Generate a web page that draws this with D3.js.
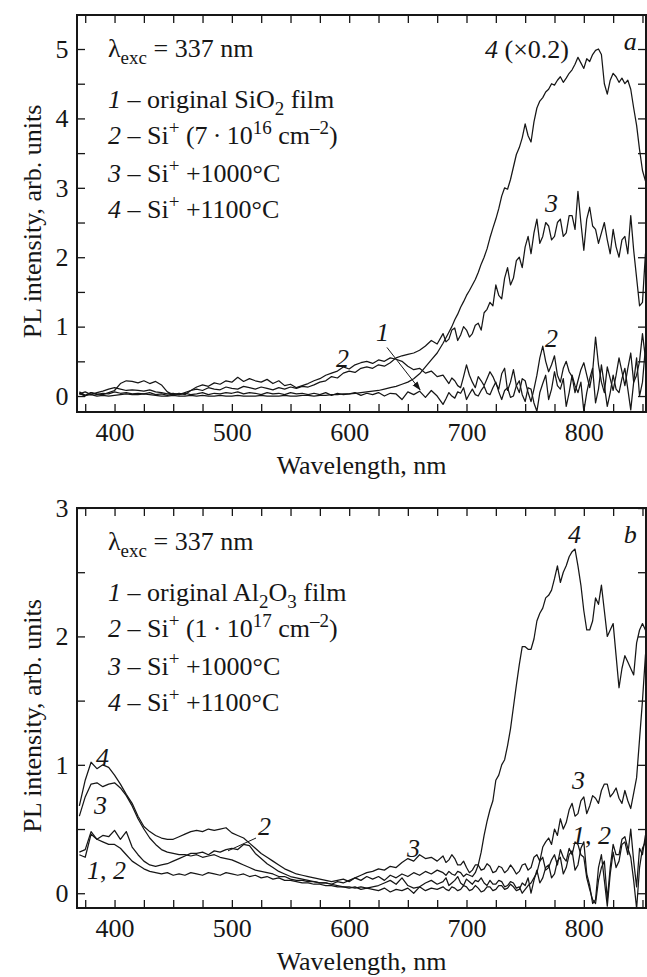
<!DOCTYPE html>
<html>
<head>
<meta charset="utf-8">
<script src="https://cdn.jsdelivr.net/npm/d3@7"></script>
<style>
  html, body { margin: 0; padding: 0; background: #fff; }
  svg { display: block; }
</style>
</head>
<body>
<svg id="chart" width="647" height="977"></svg>
<script>
const FONT = '"Liberation Serif", "Times New Roman", Times, serif';
const INK = '#161616';

// ---- shared x axis ----
// 5 nm sampling up to 675 nm, 2.5 nm where the spectra get noisy
const wavelengths = [
  370, 375, 380, 385, 390, 395, 400, 405, 410, 415,
  420, 425, 430, 435, 440, 445, 450, 455, 460, 465,
  470, 475, 480, 485, 490, 495, 500, 505, 510, 515,
  520, 525, 530, 535, 540, 545, 550, 555, 560, 565,
  570, 575, 580, 585, 590, 595, 600, 605, 610, 615,
  620, 625, 630, 635, 640, 645, 650, 655, 660, 665,
  670, 675,
  680, 682.5, 685, 687.5, 690, 692.5, 695, 697.5, 700, 702.5,
  705, 707.5, 710, 712.5, 715, 717.5, 720, 722.5, 725, 727.5,
  730, 732.5, 735, 737.5, 740, 742.5, 745, 747.5, 750, 752.5,
  755, 757.5, 760, 762.5, 765, 767.5, 770, 772.5, 775, 777.5,
  780, 782.5, 785, 787.5, 790, 792.5, 795, 797.5, 800, 802.5,
  805, 807.5, 810, 812.5, 815, 817.5, 820, 822.5, 825, 827.5,
  830, 832.5, 835, 837.5, 840, 842.5, 845, 847.5, 850, 852.5,
  855
];
const xTicks = [375, 400, 425, 450, 475, 500, 525, 550, 575, 600, 625, 650,
                675, 700, 725, 750, 775, 800, 825, 850];
const xTickLabels = [400, 500, 600, 700, 800];

// ---- panel a: SiO2 ----
const aOriginal = [
  0.04, 0.00, 0.05, 0.02, 0.04, 0.03, 0.06, 0.04, 0.05, 0.03,
  0.04, 0.03, 0.05, 0.02, 0.03, 0.01, 0.03, 0.02, 0.04, 0.02,
  0.03, 0.05, 0.02, 0.04, 0.03, 0.05, 0.04, 0.06, 0.03, 0.05,
  0.04, 0.02, 0.05, 0.03, 0.04, 0.02, 0.05, 0.03, 0.04, 0.02,
  0.04, 0.02, 0.05, 0.01, 0.04, 0.02, 0.03, 0.05, 0.01, 0.04,
  0.02, 0.05, 0.00, 0.04, 0.03, -0.05, 0.06, 0.02, 0.07, -0.02,
  0.08, 0.00,
  -0.12, -0.04, 0.05, 0.00, -0.03, 0.06, 0.04, 0.12, -0.05, 0.03,
  0.10, 0.02, 0.00, 0.08, 0.14, 0.04, 0.02, 0.12, 0.20, 0.06,
  -0.05, 0.08, 0.12, -0.02, 0.00, 0.15, 0.22, 0.02, -0.08, 0.12,
  0.10, -0.10, -0.22, 0.05, 0.18, 0.30, -0.05, 0.10, 0.35, 0.15,
  0.10, 0.25, -0.15, 0.05, 0.30, 0.15, 0.05, 0.20, -0.22, 0.05,
  0.25, 0.40, -0.10, 0.10, 0.45, 0.15, -0.15, 0.05, 0.30, 0.10,
  0.05, 0.25, 0.40, 0.10, -0.20, 0.20, 0.55, 0.00, 0.20, 0.70,
  0.60
];
const aImplanted = [
  0.06, 0.01, 0.05, 0.03, 0.02, 0.05, 0.08, 0.18, 0.22, 0.21,
  0.19, 0.22, 0.18, 0.21, 0.16, 0.06, 0.02, 0.04, 0.02, 0.08,
  0.13, 0.16, 0.14, 0.19, 0.17, 0.22, 0.20, 0.27, 0.21, 0.25,
  0.22, 0.20, 0.24, 0.18, 0.22, 0.15, 0.17, 0.12, 0.15, 0.18,
  0.22, 0.25, 0.30, 0.33, 0.36, 0.42, 0.39, 0.45, 0.48, 0.50,
  0.47, 0.52, 0.50, 0.55, 0.53, 0.50, 0.43, 0.38, 0.40, 0.33,
  0.36, 0.28,
  0.30, 0.24, 0.18, 0.26, 0.22, 0.15, 0.12, 0.28, 0.45, 0.30,
  0.20, 0.12, 0.28, 0.22, 0.15, 0.25, 0.35, 0.28, 0.18, 0.10,
  0.32, 0.40, 0.08, 0.20, 0.38, 0.15, 0.05, 0.25, 0.22, 0.05,
  -0.08, 0.10, 0.30, 0.55, 0.72, 0.50, 0.35, 0.45, 0.58, 0.30,
  0.20, 0.40, 0.50, 0.35, 0.28, 0.05, 0.22, 0.38, 0.48, 0.30,
  0.12, 0.35, 0.85, 0.45, 0.20, 0.05, 0.42, 0.25, 0.08, 0.30,
  0.55, 0.35, 0.15, 0.40, 0.62, 0.20, 0.30, 0.50, 0.90, 0.55,
  0.40
];
const aAnneal1000 = [
  0.03, 0.06, 0.02, 0.05, 0.07, 0.10, 0.12, 0.10, 0.08, 0.09,
  0.08, 0.07, 0.09, 0.06, 0.05, 0.03, 0.04, 0.02, 0.05, 0.08,
  0.10, 0.08, 0.12, 0.10, 0.09, 0.13, 0.11, 0.10, 0.14, 0.12,
  0.10, 0.13, 0.11, 0.09, 0.12, 0.10, 0.13, 0.11, 0.14, 0.13,
  0.16, 0.20, 0.22, 0.28, 0.26, 0.33, 0.36, 0.34, 0.40, 0.42,
  0.40, 0.45, 0.43, 0.48, 0.55, 0.58, 0.60, 0.62, 0.66, 0.72,
  0.80, 0.75,
  0.90, 0.78, 0.82, 0.95, 0.98, 0.80, 0.88, 1.00, 0.95, 0.85,
  0.90, 1.02, 1.05, 0.95, 1.20, 1.25, 1.35, 1.30, 1.60, 1.45,
  1.40, 1.70, 1.85, 1.60, 1.70, 1.95, 2.00, 1.85, 2.15, 2.30,
  2.05, 2.35, 2.55, 2.20, 2.30, 2.50, 2.45, 2.25, 2.30, 2.50,
  2.55, 2.30, 2.35, 2.60, 2.60, 2.40, 2.95, 2.50, 2.10, 2.55,
  2.72, 2.45, 2.40, 2.20, 2.35, 2.50, 2.25, 2.05, 2.40, 2.15,
  2.00, 2.25, 2.30, 2.05, 2.60, 2.10, 1.70, 1.30, 1.35, 2.05,
  1.90
];
// curve 4 is already scaled by 0.2
const aAnneal1100 = [
  0.03, 0.01, 0.02, 0.00, 0.01, 0.00, 0.01, 0.02, 0.03, 0.02,
  0.02, 0.03, 0.02, 0.01, 0.00, 0.00, 0.01, 0.00, 0.00, 0.01,
  0.00, 0.01, 0.00, 0.00, 0.01, 0.00, 0.00, 0.01, 0.00, 0.00,
  0.00, 0.01, 0.00, 0.00, 0.00, 0.01, 0.00, 0.00, 0.01, 0.01,
  0.00, 0.01, 0.01, 0.02, 0.02, 0.03, 0.03, 0.04, 0.05, 0.06,
  0.07, 0.08, 0.10, 0.12, 0.14, 0.17, 0.20, 0.25, 0.32, 0.42,
  0.52, 0.62,
  0.76, 0.84, 0.92, 1.00, 1.10, 1.18, 1.28, 1.36, 1.45, 1.52,
  1.60, 1.68, 1.78, 1.90, 2.00, 2.12, 2.28, 2.42, 2.55, 2.70,
  2.88, 3.00, 2.98, 3.12, 3.30, 3.48, 3.58, 3.72, 3.92, 3.75,
  3.66, 3.95, 4.15, 4.25, 4.30, 4.38, 4.42, 4.50, 4.48, 4.55,
  4.60, 4.52, 4.58, 4.65, 4.70, 4.78, 4.88, 4.80, 4.72, 4.86,
  4.82, 4.92, 4.98, 5.00, 4.92, 4.50, 4.35, 4.55, 4.65, 4.60,
  4.52, 4.58, 4.50, 4.55, 4.42, 4.15, 3.90, 3.55, 3.25, 3.10,
  3.00
];

// ---- panel b: Al2O3 ----
const bOriginal = [
  0.30, 0.28, 0.46, 0.42, 0.40, 0.38, 0.38, 0.35, 0.30, 0.25,
  0.22, 0.19, 0.17, 0.16, 0.15, 0.16, 0.14, 0.15, 0.14, 0.16,
  0.15, 0.14, 0.16, 0.15, 0.14, 0.16, 0.15, 0.14, 0.15, 0.13,
  0.14, 0.12, 0.13, 0.11, 0.12, 0.10, 0.10, 0.09, 0.08, 0.08,
  0.07, 0.07, 0.06, 0.06, 0.05, 0.05, 0.04, 0.05, 0.03, 0.04,
  0.03, 0.02, 0.04, 0.01, 0.03, 0.02, 0.04, 0.00, 0.05, 0.02,
  0.04, 0.03,
  0.05, 0.03, 0.02, 0.05, 0.04, 0.02, 0.03, 0.06, 0.05, 0.02,
  0.03, 0.06, 0.04, 0.01, 0.02, 0.05, 0.05, 0.02, 0.03, 0.06,
  0.06, 0.03, 0.04, 0.07, 0.05, 0.02, 0.03, 0.08, 0.06, 0.12,
  0.00, 0.10, 0.18, 0.08, 0.12, 0.20, 0.22, 0.12, 0.15, 0.25,
  0.28, 0.15, 0.20, 0.30, 0.33, 0.18, 0.22, 0.35, 0.40, 0.15,
  0.06, -0.08, -0.05, 0.20, 0.30, 0.10, -0.10, 0.15, 0.32, 0.20,
  0.25, 0.38, 0.40, 0.30, 0.50, 0.25, 0.05, 0.35, 0.30, 0.45,
  0.50
];
const bImplanted = [
  0.32, 0.34, 0.48, 0.42, 0.45, 0.44, 0.49, 0.42, 0.48, 0.36,
  0.30, 0.25, 0.22, 0.21, 0.22, 0.23, 0.25, 0.27, 0.29, 0.31,
  0.31, 0.32, 0.30, 0.33, 0.32, 0.34, 0.35, 0.34, 0.38, 0.37,
  0.31, 0.27, 0.23, 0.20, 0.17, 0.15, 0.13, 0.12, 0.11, 0.10,
  0.09, 0.08, 0.08, 0.07, 0.06, 0.05, 0.05, 0.04, 0.05, 0.04,
  0.05, 0.06, 0.08, 0.10, 0.07, 0.12, 0.06, 0.04, 0.05, 0.08,
  0.10, 0.07,
  0.09, 0.12, 0.06, 0.08, 0.10, 0.13, 0.08, 0.06, 0.11, 0.09,
  0.07, 0.10, 0.09, 0.12, 0.08, 0.06, 0.10, 0.07, 0.07, 0.10,
  0.09, 0.05, 0.06, 0.09, 0.08, 0.04, 0.05, 0.00, 0.03, 0.06,
  0.08, 0.12, 0.16, 0.25, 0.28, 0.18, 0.20, 0.26, 0.30, 0.22,
  0.34, 0.28, 0.25, 0.35, 0.30, 0.40, 0.38, 0.30, 0.28, 0.12,
  0.03, -0.05, -0.08, 0.10, 0.20, 0.25, -0.05, 0.20, 0.38, 0.30,
  0.30, 0.42, 0.44, 0.35, 0.28, 0.10, -0.12, 0.20, 0.35, 0.40,
  0.45
];
const bAnneal1000 = [
  0.60, 0.75, 0.85, 0.86, 0.83, 0.85, 0.86, 0.82, 0.76, 0.68,
  0.58, 0.50, 0.43, 0.38, 0.34, 0.32, 0.31, 0.30, 0.30, 0.29,
  0.30, 0.28, 0.29, 0.30, 0.28, 0.27, 0.26, 0.24, 0.22, 0.20,
  0.18, 0.17, 0.16, 0.15, 0.13, 0.13, 0.11, 0.10, 0.10, 0.09,
  0.09, 0.08, 0.08, 0.07, 0.09, 0.08, 0.10, 0.12, 0.14, 0.16,
  0.17, 0.19, 0.18, 0.21, 0.20, 0.24, 0.27, 0.25, 0.30, 0.27,
  0.28, 0.25,
  0.29, 0.24, 0.26, 0.30, 0.27, 0.22, 0.22, 0.25, 0.20, 0.16,
  0.18, 0.22, 0.22, 0.18, 0.19, 0.23, 0.21, 0.16, 0.17, 0.21,
  0.20, 0.16, 0.18, 0.22, 0.19, 0.15, 0.17, 0.22, 0.23, 0.18,
  0.20, 0.28, 0.30, 0.25, 0.36, 0.40, 0.43, 0.38, 0.50, 0.45,
  0.58, 0.50, 0.55, 0.65, 0.70, 0.60, 0.62, 0.72, 0.75, 0.62,
  0.68, 0.76, 0.74, 0.70, 0.80, 0.85, 0.85, 0.75, 0.78, 0.82,
  0.74, 0.70, 0.80, 0.72, 0.66, 0.78, 0.90, 1.20, 1.50, 1.85,
  2.05
];
const bAnneal1100 = [
  0.68, 0.88, 1.02, 0.97, 1.00, 0.98, 0.92, 0.85, 0.77, 0.70,
  0.60, 0.52, 0.48, 0.45, 0.43, 0.42, 0.42, 0.44, 0.46, 0.48,
  0.49, 0.48, 0.50, 0.49, 0.50, 0.51, 0.47, 0.45, 0.43, 0.39,
  0.35, 0.31, 0.28, 0.25, 0.22, 0.19, 0.17, 0.15, 0.14, 0.13,
  0.12, 0.11, 0.10, 0.09, 0.10, 0.11, 0.09, 0.12, 0.10, 0.13,
  0.11, 0.13, 0.10, 0.14, 0.12, 0.15, 0.13, 0.16, 0.14, 0.17,
  0.15, 0.18,
  0.16, 0.14, 0.17, 0.15, 0.14, 0.17, 0.16, 0.13, 0.15, 0.14,
  0.13, 0.16, 0.22, 0.32, 0.45, 0.56, 0.65, 0.72, 0.88, 0.92,
  1.00, 1.04, 1.15, 1.28, 1.45, 1.62, 1.78, 1.92, 1.92, 1.90,
  1.90, 1.98, 2.12, 2.18, 2.22, 2.30, 2.32, 2.36, 2.45, 2.55,
  2.42, 2.50, 2.55, 2.62, 2.66, 2.68, 2.55, 2.40, 2.20, 2.05,
  2.05, 2.12, 2.30, 2.25, 2.40, 2.20, 2.00, 2.05, 2.10, 1.85,
  1.60, 1.75, 1.85, 1.80, 1.75, 1.70, 1.95, 2.05, 2.10, 2.05,
  2.00
];

// ---- text blocks ----
const aLegend = [
  [['λ', ''], ['exc', 'sub'], [' = 337 nm', '']],
  [['1', 'i'], [' – original SiO', ''], ['2', 'sub'], [' film', '']],
  [['2', 'i'], [' – Si', ''], ['+', 'sup'], [' (7\u2009·\u200910', ''], ['16', 'sup'], [' cm', ''], ['–2', 'sup'], [')', '']],
  [['3', 'i'], [' – Si', ''], ['+', 'sup'], [' +1000°C', '']],
  [['4', 'i'], [' – Si', ''], ['+', 'sup'], [' +1100°C', '']]
];
const bLegend = [
  [['λ', ''], ['exc', 'sub'], [' = 337 nm', '']],
  [['1', 'i'], [' – original Al', ''], ['2', 'sub'], ['O', ''], ['3', 'sub'], [' film', '']],
  [['2', 'i'], [' – Si', ''], ['+', 'sup'], [' (1\u2009·\u200910', ''], ['17', 'sup'], [' cm', ''], ['–2', 'sup'], [')', '']],
  [['3', 'i'], [' – Si', ''], ['+', 'sup'], [' +1000°C', '']],
  [['4', 'i'], [' – Si', ''], ['+', 'sup'], [' +1100°C', '']]
];
const legendOffsets = [41.5, 93, 129, 166.5, 202.5];

// curve labels placed in data units: [nm, value, parts]
const aCurveLabels = [
  [715.8, 4.87, [['4', 'i'], [' (×0.2)', '']]],
  [766.9, 2.65, [['3', 'i']]],
  [766.9, 0.71, [['2', 'i']]],
  [588.8, 0.42, [['2', 'i']]],
  [622.9, 0.79, [['1', 'i']]]
];
const bCurveLabels = [
  [786.6, 2.73, [['4', 'i']]],
  [384.2, 0.99, [['4', 'i']]],
  [382.5, 0.62, [['3', 'i']]],
  [376.5, 0.11, [['1', 'i'], [', ', ''], ['2', 'i']]],
  [522.3, 0.45, [['2', 'i']]],
  [649.3, 0.28, [['3', 'i']]],
  [790.0, 0.81, [['3', 'i']]],
  [790.0, 0.38, [['1', 'i'], [', ', ''], ['2', 'i']]]
];

const LEFT = 77, RIGHT = 646;
const svg = d3.select('#chart').attr('font-family', FONT).attr('fill', INK);

svg.append('defs').append('marker')
  .attr('id', 'arrowhead')
  .attr('viewBox', '0 0 10 10')
  .attr('refX', 9).attr('refY', 5)
  .attr('markerWidth', 9).attr('markerHeight', 9)
  .attr('markerUnits', 'userSpaceOnUse')
  .attr('orient', 'auto')
  .append('path').attr('d', 'M0,1.5 L10,5 L0,8.5 Z').attr('fill', INK);

function richText(parent, x, y, parts) {
  const text = parent.append('text')
    .attr('x', x).attr('y', y)
    .attr('font-size', 26)
    .attr('fill', INK);
  let shift = 0;
  parts.forEach(([str, kind]) => {
    const target = kind === 'sub' ? 7 : kind === 'sup' ? -10 : 0;
    const span = text.append('tspan').attr('dy', target - shift).text(str);
    shift = target;
    if (kind === 'i') span.attr('font-style', 'italic');
    if (kind === 'sub' || kind === 'sup') span.attr('font-size', 19);
  });
  return text;
}

function drawPanel(cfg) {
  const { id, top, bottom, yDomain, yTicks, yTickLabels, series,
          legend, labels, letter } = cfg;

  const x = d3.scaleLinear().domain([368, 853]).range([LEFT, RIGHT]);
  const y = d3.scaleLinear().domain(yDomain).range([bottom, top]);
  const g = svg.append('g').attr('class', 'panel-' + id);

  g.append('clipPath').attr('id', 'clip-' + id)
    .append('rect')
    .attr('x', LEFT).attr('y', top)
    .attr('width', RIGHT - LEFT).attr('height', bottom - top);

  const styleAxis = sel => {
    sel.attr('font-family', FONT).attr('font-size', 26);
    sel.select('.domain').remove();
    sel.selectAll('.tick line').attr('stroke', INK).attr('stroke-width', 1.3);
    sel.selectAll('.tick text').attr('fill', INK);
  };

  g.append('g')
    .attr('transform', `translate(0,${bottom})`)
    .call(d3.axisBottom(x).tickValues(xTicks).tickSize(-8).tickSizeOuter(0)
      .tickPadding(11).tickFormat(d => xTickLabels.includes(d) ? d : ''))
    .call(styleAxis);
  g.append('g')
    .attr('transform', `translate(0,${top})`)
    .call(d3.axisTop(x).tickValues(xTicks).tickSize(-8).tickSizeOuter(0)
      .tickFormat(''))
    .call(styleAxis);
  g.append('g')
    .attr('transform', `translate(${LEFT},0)`)
    .call(d3.axisLeft(y).tickValues(yTicks).tickSize(-8).tickSizeOuter(0)
      .tickPadding(8.5).tickFormat(d => yTickLabels.includes(d) ? d : ''))
    .call(styleAxis);
  g.append('g')
    .attr('transform', `translate(${RIGHT},0)`)
    .call(d3.axisRight(y).tickValues(yTicks).tickSize(-8).tickSizeOuter(0)
      .tickFormat(''))
    .call(styleAxis);

  const line = d3.line()
    .x((d, i) => x(wavelengths[i]))
    .y(d => y(d));

  g.append('g').attr('clip-path', `url(#clip-${id})`)
    .selectAll('path')
    .data(series)
    .join('path')
    .attr('d', values => line(values))
    .attr('fill', 'none')
    .attr('stroke', INK)
    .attr('stroke-width', 1.25)
    .attr('stroke-linejoin', 'round');

  g.append('rect')
    .attr('x', LEFT).attr('y', top)
    .attr('width', RIGHT - LEFT).attr('height', bottom - top)
    .attr('fill', 'none').attr('stroke', INK).attr('stroke-width', 2);

  legend.forEach((parts, i) => richText(g, 108, top + legendOffsets[i], parts));
  labels.forEach(([nm, v, parts]) => richText(g, x(nm), y(v), parts));
  richText(g, x(letter[0]), y(letter[1]), [[letter[2], 'i']]);

  if (cfg.arrow) {
    const [[n0, v0], [n1, v1]] = cfg.arrow;
    g.append('line')
      .attr('x1', x(n0)).attr('y1', y(v0))
      .attr('x2', x(n1)).attr('y2', y(v1))
      .attr('stroke', INK).attr('stroke-width', 1)
      .attr('marker-end', 'url(#arrowhead)');
  }
  if (cfg.leader) {
    const [[n0, v0], [n1, v1]] = cfg.leader;
    g.append('line')
      .attr('x1', x(n0)).attr('y1', y(v0))
      .attr('x2', x(n1)).attr('y2', y(v1))
      .attr('stroke', INK).attr('stroke-width', 1);
  }

  g.append('text')
    .attr('transform', `translate(41,${(top + bottom) / 2 + 8}) rotate(-90)`)
    .attr('text-anchor', 'middle')
    .attr('font-size', 26)
    .text('PL intensity, arb. units');

  g.append('text')
    .attr('x', (LEFT + RIGHT) / 2)
    .attr('y', bottom + 62)
    .attr('text-anchor', 'middle')
    .attr('font-size', 26)
    .text('Wavelength, nm');
}

drawPanel({
  id: 'a',
  top: 15, bottom: 412,
  yDomain: [-0.23, 5.49],
  yTicks: [0, 0.5, 1, 1.5, 2, 2.5, 3, 3.5, 4, 4.5, 5],
  yTickLabels: [0, 1, 2, 3, 4, 5],
  series: [aOriginal, aImplanted, aAnneal1000, aAnneal1100],
  legend: aLegend,
  labels: aCurveLabels,
  letter: [834, 4.99, 'a'],
  arrow: [[632.2, 0.70], [660.4, 0.09]]
});

drawPanel({
  id: 'b',
  top: 508, bottom: 908,
  yDomain: [-0.115, 3],
  yTicks: [0, 0.5, 1, 1.5, 2, 2.5, 3],
  yTickLabels: [0, 1, 2, 3],
  series: [bOriginal, bImplanted, bAnneal1000, bAnneal1100],
  legend: bLegend,
  labels: bCurveLabels,
  letter: [834, 2.73, 'b'],
  leader: [[520.6, 0.43], [496.7, 0.33]]
});
</script>
</body>
</html>
